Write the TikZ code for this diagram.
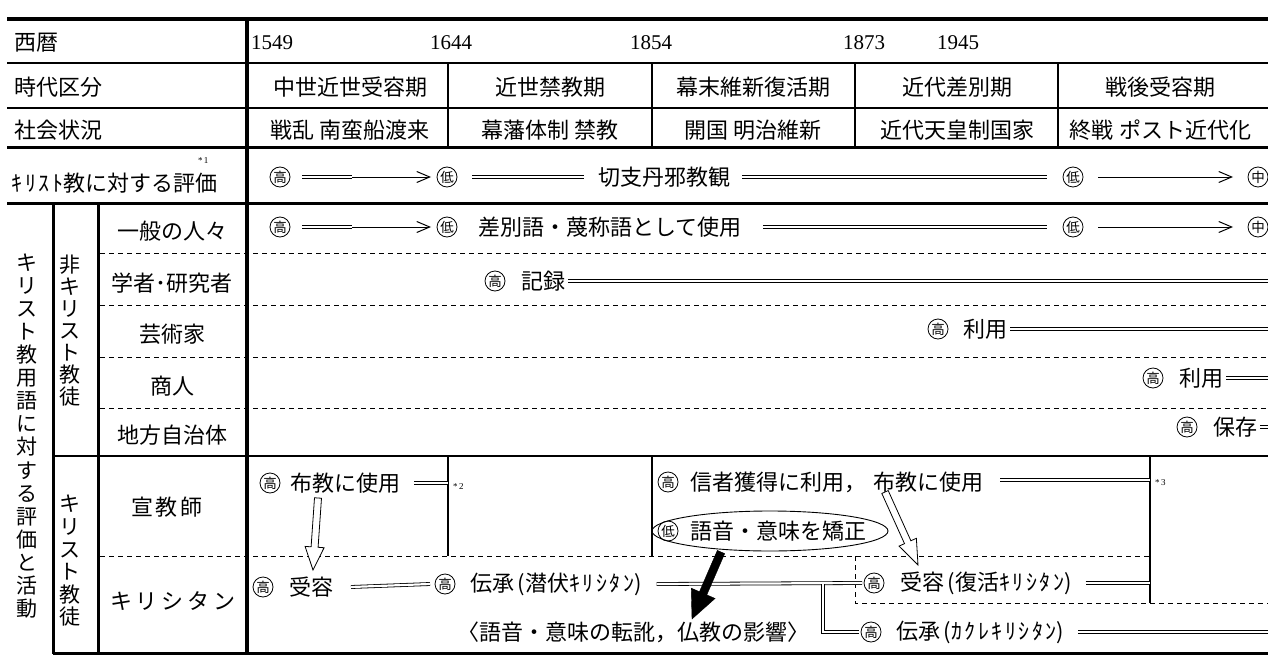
\documentclass[tikz,border=0pt]{standalone}
\usepackage{fontspec}
\setmainfont{Noto Sans CJK JP}
\newfontfamily\yrfont{Liberation Serif}
\usetikzlibrary{arrows.meta,shapes.geometric,calc}
\newcommand\kq{\kern2.5pt}
\newcommand\blockarrow[6]{%
  \draw[#6] let \p1=(#1), \p2=(#2),
    \n1={atan2(\y2-\y1,\x2-\x1)}, \n2={veclen(\x2-\x1,\y2-\y1)} in
    [shift={(\p1)}, rotate=\n1]
    (0,#3) -- (\n2-#5,#3) -- (\n2-#5,#4) -- (\n2,0) -- (\n2-#5,-#4) -- (\n2-#5,-#3) -- (0,-#3) -- cycle;}
\begin{document}
\begin{tikzpicture}[x=1pt,y=-1pt,
  every node/.style={inner sep=0pt, outer sep=0pt, font=\fontsize{22}{26}\selectfont},
  thickrule/.style={line width=3pt},
  rule/.style={line width=1.2pt},
  dashrule/.style={line width=1pt, dash pattern=on 5pt off 4pt},
  dbl/.style={double, double distance=2.2pt, line width=0.8pt},
  sgl/.style={line width=1pt, -{Straight Barb[length=13pt,width=11pt,line width=1pt]}},
  circ/.style={circle, draw, line width=0.8pt, minimum size=20pt, inner sep=0pt, font=\fontsize{13.5}{13.5}\selectfont},
  yr/.style={font=\yrfont\fontsize{21}{24}\selectfont, anchor=west},
  lw/.style={anchor=west},
  small/.style={font=\yrfont\fontsize{9}{10}\selectfont, anchor=west},
  vtext/.style={align=center},
  hollow/.style={draw, fill=white, line width=0.8pt},
  solidarrow/.style={fill=black}
]
\useasboundingbox (0,0) rectangle (1268,658);

% ---------- frame ----------
\draw[line width=3.5pt] (7,19) -- (1268,19);
\draw[rule] (7,63) -- (1268,63);
\draw[rule] (7,108) -- (1268,108);
\draw[thickrule] (7,147) -- (1268,147);
\draw[thickrule] (7,203) -- (1268,203);
\foreach \y in {253,305,357,408} \draw[dashrule] (100,\y) -- (1268,\y);
\draw[line width=2pt] (53,456) -- (1268,456);
\draw[dashrule] (100,556) -- (1150,556);
\draw[thickrule] (53,653) -- (1268,653);
\draw[line width=3.5pt] (247,19) -- (247,654);
\draw[thickrule] (53,203) -- (53,654);
\draw[thickrule] (98,203) -- (98,654);
\foreach \x in {448,652,855,1058} \draw[rule] (\x,63) -- (\x,147);
\draw[rule] (448,456) -- (448,556);
\draw[rule] (652,456) -- (652,556);
\draw[rule] (1150,456) -- (1150,603);
\draw[dashrule] (855,556) -- (855,603) -- (1268,603);

% ---------- header ----------
\node[lw] (hSeireki) at (14,43) {西暦};
\node[lw] (hJidai) at (14,87) {時代区分};
\node[lw] (hShakai) at (14,130) {社会状況};
\node[lw] (hHyoka) at (12,183) {ｷ\kq ﾘ\kq ｽ\kq ﾄ教に対する評価};
\node[small] (note1) at (198,161) {*\,1};

\node[yr] (y1549) at (251,43) {1549};
\node[yr] (y1644) at (430,43) {1644};
\node[yr] (y1854) at (630,43) {1854};
\node[yr] (y1873) at (843,43) {1873};
\node[yr] (y1945) at (937,43) {1945};

\node (p1) at (350,87) {中世近世受容期};
\node (p2) at (550,87) {近世禁教期};
\node (p3) at (753,87) {幕末維新復活期};
\node (p4) at (957,87) {近代差別期};
\node (p5) at (1160,87) {戦後受容期};

\node (s1) at (350,130) {戦乱\hspace{6pt}南蛮船渡来};
\node (s2) at (550,130) {幕藩体制\hspace{6pt}禁教};
\node (s3) at (753,130) {開国\hspace{6pt}明治維新};
\node (s4) at (957,130) {近代天皇制国家};
\node (s5) at (1160,130) {終戦\hspace{6pt}ポスト近代化};

% ---------- vertical labels ----------
\node[vtext, font=\fontsize{21}{23.07}\selectfont] (vMain) at (27,436)
  {キ\\リ\\ス\\ト\\教\\用\\語\\に\\対\\す\\る\\評\\価\\と\\活\\動};
\node[vtext, font=\fontsize{21}{22}\selectfont] (vNon) at (70,331)
  {非\\キ\\リ\\ス\\ト\\教\\徒};
\node[vtext, font=\fontsize{21}{22.6}\selectfont] (vChr) at (70,561)
  {キ\\リ\\ス\\ト\\教\\徒};

% ---------- row labels ----------
\node (r1) at (172,231) {一般の人々};
\node (r2) at (172,283) {学者･研究者};
\node (r3) at (172,334) {芸術家};
\node (r4) at (172,386) {商人};
\node (r5) at (172,435) {地方自治体};
\node (r6) at (167,507) {宣\hspace{3pt}教\hspace{3pt}師};
\node (r7) at (173,601) {キ\kern4ptリ\kern4ptシ\kern4ptタ\kern4ptン};

% ---------- row: evaluation ----------
\node[circ] (h0) at (280,177) {高};
\coordinate (h0b) at (352,177);
\node[circ] (l0) at (447,177) {低};
\node[lw] (t0) at (598,177) {切支丹邪教観};
\node[circ] (l0b) at (1073,177) {低};
\node[circ] (m0) at (1258,177) {中};
\draw[dbl] ([xshift=12pt]h0.east) -- (h0b);
\draw[sgl] (h0b) -- ([xshift=-6pt]l0.west);
\draw[dbl] ([xshift=15pt]l0.east) -- ([xshift=-14pt]t0.west);
\draw[dbl] ([xshift=12pt]t0.east) -- ([xshift=-16pt]l0b.west);
\draw[sgl] ([xshift=15pt]l0b.east) -- ([xshift=-15pt]m0.west);

% ---------- row: general public ----------
\node[circ] (h1) at (280,227) {高};
\coordinate (h1b) at (352,227);
\node[circ] (l1) at (447,227) {低};
\node[lw] (t1) at (478,227) {差別語・蔑称語として使用};
\node[circ] (l1b) at (1073,227) {低};
\node[circ] (m1) at (1258,227) {中};
\draw[dbl] ([xshift=12pt]h1.east) -- (h1b);
\draw[sgl] (h1b) -- ([xshift=-6pt]l1.west);
\draw[dbl] ([xshift=22pt]t1.east) -- ([xshift=-16pt]l1b.west);
\draw[sgl] ([xshift=15pt]l1b.east) -- ([xshift=-15pt]m1.west);

% ---------- row: scholars ----------
\node[circ] (h2) at (495,281) {高};
\node[lw] (t2) at (521,281) {記録};
\coordinate (e2) at (1268,281);
\draw[dbl] ([xshift=3pt]t2.east) -- (e2);

% ---------- row: artists ----------
\node[circ] (h3) at (938,329) {高};
\node[lw] (t3) at (963,329) {利用};
\coordinate (e3) at (1268,329);
\draw[dbl] ([xshift=3pt]t3.east) -- (e3);

% ---------- row: merchants ----------
\node[circ] (h4) at (1153,378) {高};
\node[lw] (t4) at (1179,378) {利用};
\coordinate (e4) at (1268,378);
\draw[dbl] ([xshift=3pt]t4.east) -- (e4);

% ---------- row: local government ----------
\node[circ] (h5) at (1187,427) {高};
\node[lw] (t5) at (1213,427) {保存};
\coordinate (e5) at (1268,427);
\draw[dbl] ([xshift=3pt]t5.east) -- (e5);

% ---------- missionaries ----------
\node[circ] (h6) at (270,483) {高};
\node[lw] (t6) at (290,483) {布教に使用};
\coordinate (v6) at (448,483);
\draw[dbl] ([xshift=14pt]t6.east) -- (v6);
\node[small] (note2) at (453,487) {*\,2};

\node[circ] (h12) at (668,482) {高};
\node[lw] (t12) at (690,482) {信者獲得に利用，\hspace{8pt}布教に使用};
\coordinate (v12) at (1150,480);
\draw[dbl] ([xshift=16pt]t12.east |- v12) -- (v12);
\node[small] (note3) at (1155,483) {*\,3};

\node[draw, ellipse, line width=0.9pt, minimum width=236pt, minimum height=40pt] (ell) at (770,531) {};
\node[circ] (l13) at (668,531) {低};
\node[lw] (t13) at (690,531) {語音・意味を矯正};

% ---------- kirishitan ----------
\node[circ] (h7) at (263,587) {高};
\node[lw] (t7) at (289,587) {受容};
\node[circ] (h8) at (445,584) {高};
\draw[dbl] ([xshift=18pt]t7.east) -- ([xshift=-5pt]h8.west);
\node[lw] (t8) at (470,584) {伝承\,(潜伏ｷ\kq ﾘ\kq ｼ\kq ﾀ\kq ﾝ)};

\node[circ] (h9) at (874,583) {高};
\node[lw] (t9) at (900,583) {受容\,(復活ｷ\kq ﾘ\kq ｼ\kq ﾀ\kq ﾝ)};
\coordinate (v9) at (1150,583);
\draw[dbl] ([xshift=14pt]t9.east) -- (v9);

\draw[dbl] ([xshift=15pt]t8.east) -- ([xshift=-2pt]h9.west);
\coordinate (j1) at (823,584);

\node[circ] (h10) at (871,632) {高};
\node[lw] (t10) at (896,632) {伝承\,(ｶ\kq ｸ\kq ﾚ\kq ｷ\kq ﾘ\kq ｼ\kq ﾀ\kq ﾝ)};
\coordinate (e10) at (1268,632);
\draw[dbl] (j1) |- ([xshift=-2pt]h10.west);
\draw[dbl] ([xshift=14pt]t10.east) -- (e10);

\node (t11) at (633,632) {〈語音・意味の転訛，仏教の影響〉};

% ---------- block arrows ----------
\coordinate (a1s) at (318,498);
\coordinate (a1e) at (313,570);
\blockarrow{a1s}{a1e}{3.5}{9.5}{23}{hollow}
\coordinate (a2s) at (885,492);
\coordinate (a2e) at (918,565);
\blockarrow{a2s}{a2e}{3.5}{9.5}{25}{hollow}
\coordinate (a3s) at (721,552);
\coordinate (a3e) at (692,619);
\blockarrow{a3s}{a3e}{4}{13}{28}{solidarrow}
\end{tikzpicture}
\end{document}
